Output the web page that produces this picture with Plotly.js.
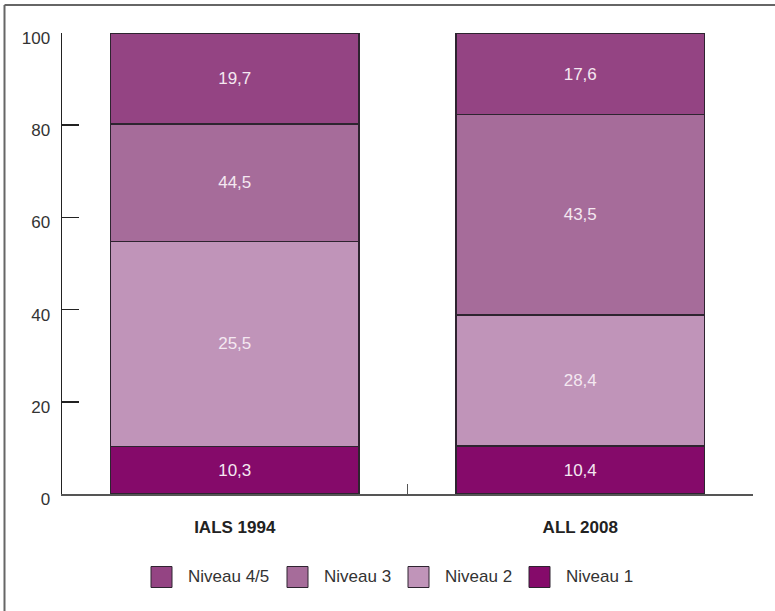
<!DOCTYPE html>
<html>
<head>
<meta charset="utf-8">
<script src="https://cdn.plot.ly/plotly-3.0.1.min.js"></script>
<style>html,body{margin:0;padding:0;background:#fff;}#chart{width:775px;height:611px;}</style>
</head>
<body>
<div id="chart"></div>
<script>
// Categories
var categories = ["IALS 1994", "ALL 2008"];
// Series names (stack order bottom to top)
var seriesNames = ["Niveau 1", "Niveau 2", "Niveau 3", "Niveau 4/5"];
// Segment heights as drawn
var niveau1 = [10.3, 10.4];
var niveau2 = [44.5, 28.4];
var niveau3 = [25.5, 43.5];
var niveau45 = [19.7, 17.6];
// Labels as printed in the segments
var niveau1Labels = ["10,3", "10,4"];
var niveau2Labels = ["25,5", "28,4"];
var niveau3Labels = ["44,5", "43,5"];
var niveau45Labels = ["19,7", "17,6"];
// Y tick values
var yTicks = [0, 20, 40, 60, 80, 100];

var colors = ["#850a6a", "#c094b9", "#a66c9a", "#944483"];
var values = [niveau1, niveau2, niveau3, niveau45];
var labels = [niveau1Labels, niveau2Labels, niveau3Labels, niveau45Labels];
var FONT = "Liberation Sans, Arial, sans-serif";

var traces = seriesNames.map(function (name, i) {
  return {
    type: "bar",
    name: name,
    x: categories,
    y: values[i],
    text: labels[i],
    texttemplate: "%{text}",
    textposition: "inside",
    insidetextanchor: "middle",
    textangle: 0,
    textfont: {family: FONT, size: 17, color: "#f4e8f1"},
    marker: {color: colors[i], line: {color: "#2e2430", width: 1.5}},
    width: 0.72,
    hoverinfo: "skip",
    showlegend: false,
    cliponaxis: false
  };
});

// Custom legend (large squares), order as in reference
var legendOrder = [3, 2, 1, 0];
var legendSquareX = [151, 287, 408, 529];
var shapes = [];
var annotations = [];
function px2x(px) { return (px - 62) / 691; }
function py2y(py) { return (494 - py) / 461; }
legendOrder.forEach(function (idx, k) {
  var x0 = legendSquareX[k];
  shapes.push({
    type: "rect", xref: "paper", yref: "paper",
    x0: px2x(x0), x1: px2x(x0 + 21), y0: py2y(587.5), y1: py2y(566.5),
    fillcolor: colors[idx], line: {color: "#2e2430", width: 1}
  });
  annotations.push({
    xref: "paper", yref: "paper", x: px2x(x0 + 35), y: py2y(576),
    xanchor: "left", yanchor: "middle", showarrow: false,
    text: seriesNames[idx], font: {family: FONT, size: 17, color: "#333333"}
  });
});
// Outer frame (top and left lines)
shapes.push({type: "line", xref: "paper", yref: "paper",
  x0: px2x(4.5), x1: px2x(775), y0: py2y(5), y1: py2y(5),
  line: {color: "#666666", width: 2}});
shapes.push({type: "line", xref: "paper", yref: "paper",
  x0: px2x(4.5), x1: px2x(4.5), y0: py2y(5), y1: py2y(611),
  line: {color: "#666666", width: 2}});

var layout = {
  width: 775, height: 611,
  margin: {l: 62, r: 22, t: 33, b: 117},
  paper_bgcolor: "#ffffff", plot_bgcolor: "#ffffff",
  barmode: "stack",
  showlegend: false,
  font: {family: FONT, color: "#333333"},
  xaxis: {
    type: "category",
    range: [-0.5, 1.5],
    showline: true, linecolor: "#555555", linewidth: 1.5,
    ticks: "inside", tickson: "boundaries", ticklen: 10, tickcolor: "#555555", tickwidth: 1.5,
    tickfont: {family: FONT, size: 17, color: "#222222", weight: "bold"},
    ticklabelstandoff: 17,
    showgrid: false, zeroline: false, fixedrange: true
  },
  yaxis: {
    range: [0, 100],
    tickvals: yTicks,
    showline: true, linecolor: "#222222", linewidth: 1.5,
    ticks: "inside", ticklen: 17, tickcolor: "#222222", tickwidth: 1.5,
    tickfont: {family: FONT, size: 17, color: "#333333"},
    ticklabelstandoff: 7,
    ticklabelshift: 5,
    showgrid: false, zeroline: false, fixedrange: true
  },
  shapes: shapes,
  annotations: annotations
};

Plotly.newPlot("chart", traces, layout, {displayModeBar: false, staticPlot: true});
</script>
</body>
</html>
